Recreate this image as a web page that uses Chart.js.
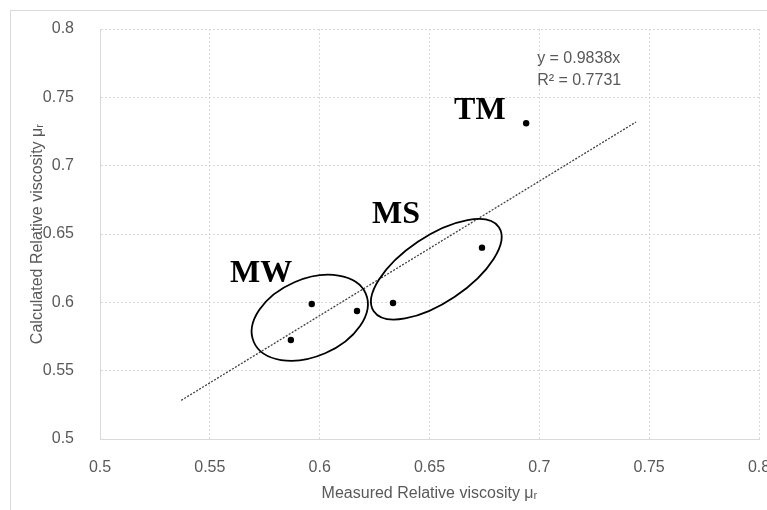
<!DOCTYPE html>
<html>
<head>
<meta charset="utf-8">
<script src="https://cdn.jsdelivr.net/npm/chart.js@4.4.1/dist/chart.umd.min.js"></script>
<style>
  html, body { margin: 0; padding: 0; background: #ffffff; }
  #wrap { position: relative; width: 767px; height: 510px; }
</style>
</head>
<body>
<div id="wrap"><canvas id="viscosityChart" width="767" height="510"></canvas></div>
<script>
// Measured vs calculated relative viscosity

const measured = [0.5869, 0.5964, 0.6170, 0.6334, 0.6739, 0.6940];
const calculated = [0.5724, 0.5988, 0.5937, 0.5995, 0.6400, 0.7310];

// linear trendline through origin (Excel), forecast 0.05 each way
const trendSlope = 0.9838;
const trendRange = [0.537, 0.744];
const trendText = ["y = 0.9838x", "R\u00b2 = 0.7731"];

const xTicks = [0.5, 0.55, 0.6, 0.65, 0.7, 0.75, 0.8];
const yTicks = [0.5, 0.55, 0.6, 0.65, 0.7, 0.75, 0.8];

// group labels and ellipse centres, in data units
const groupNames = ["MW", "MS", "TM"];
const groupLabelX = [0.5592, 0.6238, 0.6612];
const groupLabelY = [0.6149, 0.6580, 0.7339];
const ellipseX = [0.5955, 0.6531];
const ellipseY = [0.5887, 0.6242];

const GRAY = "#595959";
const GRID = "#d9d9d9";
const TICK_FONT = "'Liberation Sans', Arial, sans-serif";

const scatterPoints = measured.map((x, i) => ({ x: x, y: calculated[i] }));
const trendPoints = trendRange.map(x => ({ x: x, y: trendSlope * x }));

// ellipse shapes (pixels): semi-axes and tilt
const ellipseStyle = [
  { a: 61, b: 38.7, rot: -23.4 },
  { a: 75.4, b: 33.1, rot: -33.9 },
];

const annotationPlugin = {
  id: "annotations",
  beforeDraw(chart) {
    const ctx = chart.ctx;
    ctx.save();
    ctx.strokeStyle = GRID;
    ctx.lineWidth = 1;
    ctx.strokeRect(10.5, 10.5, 800, 600);
    ctx.restore();
  },
  afterDatasetsDraw(chart) {
    const ctx = chart.ctx;
    const xs = chart.scales.x;
    const ys = chart.scales.y;
    ctx.save();

    // circled groups
    ctx.strokeStyle = "#000000";
    ctx.lineWidth = 1.8;
    ellipseX.forEach((cx, i) => {
      const s = ellipseStyle[i];
      ctx.beginPath();
      ctx.ellipse(xs.getPixelForValue(cx), ys.getPixelForValue(ellipseY[i]),
        s.a, s.b, s.rot * Math.PI / 180, 0, Math.PI * 2);
      ctx.stroke();
    });

    // group names
    ctx.fillStyle = "#000000";
    ctx.font = "bold 32px 'Liberation Serif', 'Times New Roman', serif";
    ctx.textAlign = "left";
    ctx.textBaseline = "alphabetic";
    groupNames.forEach((name, i) => {
      ctx.fillText(name, xs.getPixelForValue(groupLabelX[i]), ys.getPixelForValue(groupLabelY[i]));
    });

    // trendline equation
    ctx.fillStyle = GRAY;
    ctx.font = "16px " + TICK_FONT;
    const ex = xs.getPixelForValue(0.699);
    ctx.fillText(trendText[0], ex, ys.getPixelForValue(0.7751));
    ctx.fillText(trendText[1], ex, ys.getPixelForValue(0.7590));
    ctx.restore();
  },
};

new Chart(document.getElementById("viscosityChart").getContext("2d"), {
  type: "scatter",
  data: {
    datasets: [
      {
        label: "Data",
        data: scatterPoints,
        backgroundColor: "#000000",
        borderColor: "#000000",
        pointRadius: 3.2,
        pointBorderWidth: 0,
        order: 1,
      },
      {
        label: "Trend",
        type: "line",
        data: trendPoints,
        borderColor: "#404040",
        borderWidth: 1.3,
        borderDash: [2, 1.5],
        pointRadius: 0,
        fill: false,
        order: 2,
      },
    ],
  },
  options: {
    responsive: false,
    animation: false,
    layout: { padding: { left: 0, top: 29, right: 8, bottom: 0 } },
    plugins: {
      legend: { display: false },
      tooltip: { enabled: false },
    },
    scales: {
      x: {
        type: "linear",
        min: 0.5,
        max: 0.8,
        afterBuildTicks: (scale) => { scale.ticks = xTicks.map(v => ({ value: v })); },
        afterFit: (scale) => {
          scale.height = 71;
          scale.paddingLeft = 0;
          scale.paddingRight = 0;
        },
        grid: { color: GRID, lineWidth: 1, drawTicks: false },
        border: { color: GRID, dash: [2, 2] },
        ticks: {
          color: GRAY,
          padding: 19,
          maxRotation: 0,
          font: { size: 16, family: TICK_FONT },
          callback: (v) => String(v),
        },
        title: {
          display: true,
          text: "Measured Relative viscosity \u03bc\u1d63",
          color: GRAY,
          font: { size: 16, family: TICK_FONT },
          padding: { top: 4, bottom: 7 },
        },
      },
      y: {
        type: "linear",
        min: 0.5,
        max: 0.8,
        afterBuildTicks: (scale) => { scale.ticks = yTicks.map(v => ({ value: v })); },
        afterFit: (scale) => {
          scale.width = 100;
          scale.paddingTop = 0;
          scale.paddingBottom = 0;
        },
        grid: { color: GRID, lineWidth: 1, drawTicks: false },
        border: { color: GRID, dash: [2, 2] },
        ticks: {
          color: GRAY,
          padding: 26,
          font: { size: 16, family: TICK_FONT },
          callback: (v) => String(v),
        },
        title: {
          display: true,
          text: "Calculated Relative viscosity \u03bc\u1d63",
          color: GRAY,
          font: { size: 16, family: TICK_FONT },
          padding: { top: 28, bottom: 0 },
        },
      },
    },
  },
  plugins: [annotationPlugin],
});
</script>
</body>
</html>
